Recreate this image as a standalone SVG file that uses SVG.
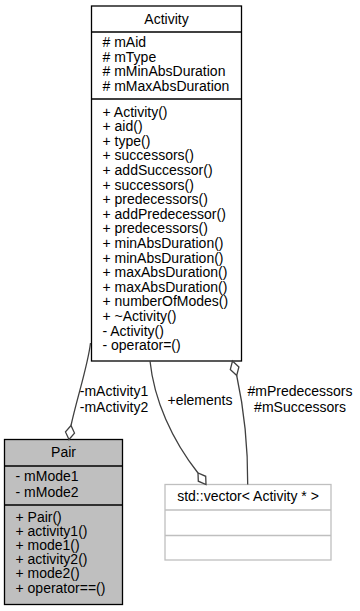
<svg xmlns="http://www.w3.org/2000/svg" width="360" height="611" viewBox="0 0 360 611">
  <style>
    text { font-family: "Liberation Sans", Arial, sans-serif; font-size: 14px; fill: #000; }
    .mid { text-anchor: middle; }
    .box { fill: #fff; stroke: #000; stroke-width: 1.3; }
    .sel { fill: #bfbfbf; stroke: #000; stroke-width: 1.3; }
    .ext { fill: #fff; stroke: #bfbfbf; stroke-width: 1.3; }
    .sep { stroke: #000; stroke-width: 1.3; }
    .sepx { stroke: #bfbfbf; stroke-width: 1.3; }
    .edge { fill: none; stroke: #404040; stroke-width: 1.3; }
    .dia { fill: #fff; stroke: #404040; stroke-width: 1.3; }
  </style>
  <rect width="360" height="611" fill="#fff"/>

  <!-- class Activity -->
  <g id="node-activity">
    <rect class="box" x="91.5" y="6" width="150" height="355"/>
    <line class="sep" x1="91.5" y1="32" x2="241.5" y2="32"/>
    <line class="sep" x1="91.5" y1="99" x2="241.5" y2="99"/>
    <text class="mid" x="166.5" y="23.5">Activity</text>
    <text x="102.5" y="47">
      <tspan x="102.5" y="47"># mAid</tspan>
      <tspan x="102.5" y="61.5"># mType</tspan>
      <tspan x="102.5" y="76"># mMinAbsDuration</tspan>
      <tspan x="102.5" y="90.5"># mMaxAbsDuration</tspan>
    </text>
    <text x="102.5" y="116.5">
      <tspan x="102.5" y="116.5">+ Activity()</tspan>
      <tspan x="102.5" y="131.1">+ aid()</tspan>
      <tspan x="102.5" y="145.7">+ type()</tspan>
      <tspan x="102.5" y="160.3">+ successors()</tspan>
      <tspan x="102.5" y="174.9">+ addSuccessor()</tspan>
      <tspan x="102.5" y="189.5">+ successors()</tspan>
      <tspan x="102.5" y="204.1">+ predecessors()</tspan>
      <tspan x="102.5" y="218.7">+ addPredecessor()</tspan>
      <tspan x="102.5" y="233.3">+ predecessors()</tspan>
      <tspan x="102.5" y="247.9">+ minAbsDuration()</tspan>
      <tspan x="102.5" y="262.5">+ minAbsDuration()</tspan>
      <tspan x="102.5" y="277.1">+ maxAbsDuration()</tspan>
      <tspan x="102.5" y="291.7">+ maxAbsDuration()</tspan>
      <tspan x="102.5" y="306.3">+ numberOfModes()</tspan>
      <tspan x="102.5" y="320.9">+ ~Activity()</tspan>
      <tspan x="102.5" y="335.5">- Activity()</tspan>
      <tspan x="102.5" y="350.1">- operator=()</tspan>
    </text>
  </g>

  <!-- class Pair -->
  <g id="node-pair">
    <rect class="sel" x="4.5" y="439.5" width="118" height="165"/>
    <line class="sep" x1="4.5" y1="466" x2="122.5" y2="466"/>
    <line class="sep" x1="4.5" y1="505" x2="122.5" y2="505"/>
    <text class="mid" x="63.5" y="456.5">Pair</text>
    <text x="15.5" y="481">
      <tspan x="15.5" y="481">- mMode1</tspan>
      <tspan x="15.5" y="496.5">- mMode2</tspan>
    </text>
    <text x="15.5" y="521.5">
      <tspan x="15.5" y="521.5">+ Pair()</tspan>
      <tspan x="15.5" y="535.7">+ activity1()</tspan>
      <tspan x="15.5" y="549.9">+ mode1()</tspan>
      <tspan x="15.5" y="564.1">+ activity2()</tspan>
      <tspan x="15.5" y="578.3">+ mode2()</tspan>
      <tspan x="15.5" y="592.5">+ operator==()</tspan>
    </text>
  </g>

  <!-- std::vector -->
  <g id="node-vector">
    <rect class="ext" x="165" y="484.5" width="166" height="75.5"/>
    <line class="sepx" x1="165" y1="510" x2="331" y2="510"/>
    <line class="sepx" x1="165" y1="535.5" x2="331" y2="535.5"/>
    <text class="mid" x="248" y="501">std::vector&lt; Activity * &gt;</text>
  </g>

  <!-- associations -->
  <g id="edges">
    <path class="edge" d="M90.5,343 C88,365 77,398 71,425.5"/>
    <polygon class="dia" points="69,439.5 74.5,433.1 71,425.5 65.5,431.9"/>
    <text class="mid" x="114" y="396">-mActivity1</text>
    <text class="mid" x="114" y="412">-mActivity2</text>

    <path class="edge" d="M150,361 C154,400 172,440 198,473"/>
    <polygon class="dia" points="206,484.5 205.7,476.3 198,473 198.3,481.2"/>
    <text class="mid" x="200" y="404.5">+elements</text>

    <path class="edge" d="M236.7,375.5 C242,400 248,440 247.7,484.5"/>
    <polygon class="dia" points="232.5,361 238.9,367 236.7,375.5 230.3,369.5"/>
    <text class="mid" x="300" y="396">#mPredecessors</text>
    <text class="mid" x="300" y="411.5">#mSuccessors</text>
  </g>
</svg>
